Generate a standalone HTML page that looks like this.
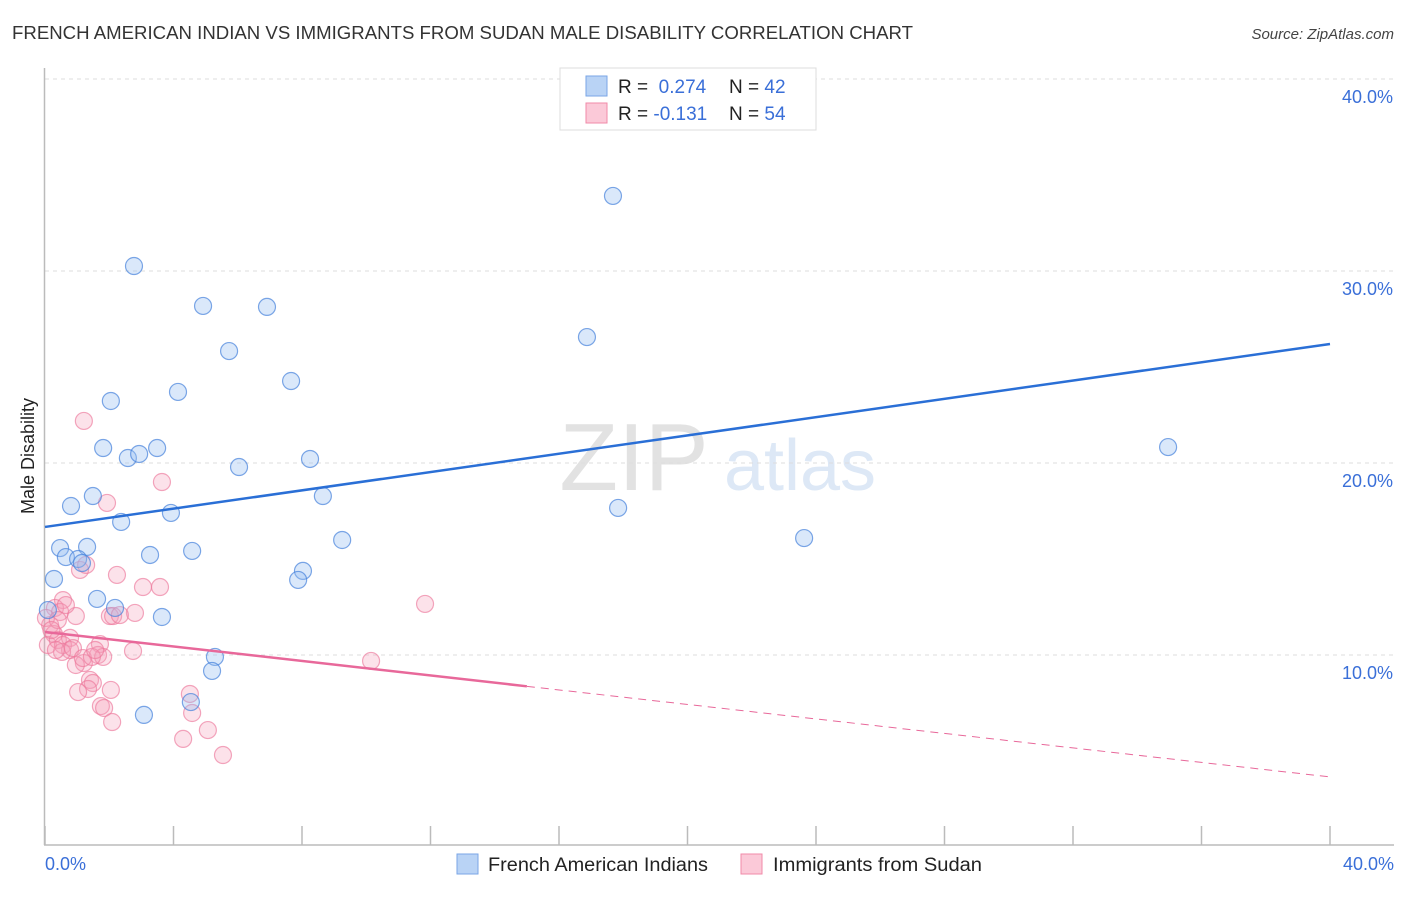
<!DOCTYPE html>
<html><head><meta charset="utf-8"><style>
body{margin:0;background:#fff;font-family:"Liberation Sans",sans-serif;}
svg text{font-family:"Liberation Sans",sans-serif;}
</style></head><body>
<svg id="chart" width="1406" height="892" viewBox="0 0 1406 892">
<text x="12" y="39" font-size="18" fill="#333" textLength="901" lengthAdjust="spacingAndGlyphs">FRENCH AMERICAN INDIAN VS IMMIGRANTS FROM SUDAN MALE DISABILITY CORRELATION CHART</text>
<text x="1394" y="39" font-size="15" fill="#444" font-style="italic" text-anchor="end">Source: ZipAtlas.com</text>
<text x="634" y="490" font-size="96" fill="#e2e2e2" font-family="Liberation Serif" text-anchor="middle">ZIP</text>
<text x="800" y="490" font-size="72" fill="#dde8f6" text-anchor="middle">atlas</text>
<g id="grid"></g>
<g id="axes"></g>
<g id="marks"></g>
<text transform="translate(34,456) rotate(-90)" font-size="18" fill="#222" text-anchor="middle">Male Disability</text>
<text x="45" y="870" font-size="18" fill="#3a6fd8">0.0%</text>
<text x="1394" y="870" font-size="18" fill="#3a6fd8" text-anchor="end">40.0%</text>
<g>
<rect x="560" y="68" width="256" height="62" fill="#fff" stroke="#ddd"/>
<rect x="586" y="76" width="21" height="20" fill="#b9d3f5" stroke="#7aa6e6"/>
<rect x="586" y="103" width="21" height="20" fill="#fbc9d8" stroke="#f08aa8"/>
<text x="618" y="93" font-size="19" fill="#222">R = <tspan fill="#3a6fd8">&#160;0.274</tspan><tspan x="729">N = </tspan><tspan fill="#3a6fd8">42</tspan></text>
<text x="618" y="120" font-size="19" fill="#222">R = <tspan fill="#3a6fd8">-0.131</tspan><tspan x="729">N = </tspan><tspan fill="#3a6fd8">54</tspan></text>
</g>
<g>
<rect x="457" y="854" width="21" height="20" fill="#b9d3f5" stroke="#7aa6e6"/>
<text x="488" y="871" font-size="19" fill="#222" textLength="220" lengthAdjust="spacingAndGlyphs">French American Indians</text>
<rect x="741" y="854" width="21" height="20" fill="#fbc9d8" stroke="#f08aa8"/>
<text x="773" y="871" font-size="19" fill="#222" textLength="209" lengthAdjust="spacingAndGlyphs">Immigrants from Sudan</text>
</g>
</svg>
<script>
const yTicks=[10,20,30,40];
const yTickLabels=["10.0%","20.0%","30.0%","40.0%"];
const xTicks=[0,4,8,12,16,20,24,28,32,36,40];
const blueX=[2.77,17.68,4.92,6.91,5.73,16.87,7.66,4.14,2.05,1.81,3.49,2.58,2.93,6.04,8.25,34.96,1.49,0.81,8.65,3.92,2.37,17.84,23.63,9.25,0.47,1.31,0.65,1.03,3.27,4.58,0.28,8.03,7.88,1.15,1.62,2.18,3.64,0.09,5.29,5.20,4.54,3.08];
const blueY=[30.26,33.91,28.18,28.13,25.83,26.56,24.27,23.70,23.23,20.78,20.78,20.26,20.47,19.79,20.21,20.83,18.28,17.76,18.28,17.40,16.93,17.66,16.09,15.99,15.57,15.63,15.10,15.00,15.21,15.42,13.96,14.38,13.91,14.79,12.92,12.45,11.98,12.34,9.90,9.17,7.55,6.88];
const pinkX=[1.21,3.64,1.93,1.09,1.28,2.24,3.05,3.58,11.83,0.56,0.31,0.47,0.96,2.02,2.12,2.80,0.16,0.28,0.09,0.40,0.78,0.56,0.78,0.53,0.87,1.71,1.65,1.81,2.74,1.21,0.96,10.15,1.40,1.49,1.34,2.05,1.03,4.51,1.74,1.84,4.58,2.09,5.07,4.30,5.54,0.03,1.18,0.34,0.65,1.46,0.40,2.33,1.56,0.20];
const pinkY=[22.19,19.01,17.92,14.43,14.69,14.17,13.54,13.54,12.66,12.86,12.45,12.24,12.03,12.03,12.03,12.19,11.56,11.09,10.52,10.78,10.89,10.52,10.26,10.16,10.36,10.57,10.0,9.9,10.21,9.58,9.48,9.69,8.70,8.54,8.23,8.18,8.07,7.97,7.34,7.24,6.98,6.51,6.09,5.63,4.79,11.93,9.84,10.26,12.60,9.9,11.82,12.08,10.26,11.3];
const blueTrend=[16.67,26.2];
const pinkTrend=[11.2,3.65];
const pinkSolidEnd=15.0;

const X=v=>45+v/40*1285;
const Y=v=>847-v*19.2;
const NS="http://www.w3.org/2000/svg";
function mk(tag,attrs,parent){const e=document.createElementNS(NS,tag);for(const k in attrs)e.setAttribute(k,attrs[k]);document.getElementById(parent).appendChild(e);return e;}
yTicks.forEach((t,i)=>{
  const l=mk('line',{x1:45,x2:1393,y1:Y(t),y2:Y(t),stroke:'#ddd','stroke-dasharray':'4,4'},'grid');
  
  
  const tx=mk('text',{x:1393,y:Y(t)+24,'font-size':18,fill:'#3a6fd8','text-anchor':'end'},'grid');
  tx.textContent=yTickLabels[i];
  
  
});
let a=mk('line',{x1:44.5,x2:44.5,y1:68,y2:845,stroke:'#bbb','stroke-width':1.5},'axes');


a=mk('line',{x1:44,x2:1394,y1:845,y2:845,stroke:'#bbb','stroke-width':1.5},'axes');


xTicks.forEach(t=>{
  const l=mk('line',{x1:X(t),x2:X(t),y1:826,y2:845,stroke:'#bbb','stroke-width':1.5},'axes');
  
  
});
pinkX.forEach((v,i)=>{
  const c=mk('circle',{cx:X(v),cy:Y(pinkY[i]),r:8.5,fill:'rgba(246,160,185,0.3)',stroke:'rgba(236,120,155,0.65)','stroke-width':1.2},'marks');
  
  
});
blueX.forEach((v,i)=>{
  const c=mk('circle',{cx:X(v),cy:Y(blueY[i]),r:8.5,fill:'rgba(150,190,240,0.35)',stroke:'rgba(70,130,220,0.7)','stroke-width':1.2},'marks');
  
  
});
let t=mk('line',{x1:X(0),y1:Y(blueTrend[0]),x2:X(40),y2:Y(blueTrend[1]),stroke:'#2a6fd6','stroke-width':2.5},'marks');


const py=x=>pinkTrend[0]+(pinkTrend[1]-pinkTrend[0])*x/40;
t=mk('line',{x1:X(0),y1:Y(py(0)),x2:X(pinkSolidEnd),y2:Y(py(pinkSolidEnd)),stroke:'#e8689a','stroke-width':2.5},'marks');


t=mk('line',{x1:X(pinkSolidEnd),y1:Y(py(pinkSolidEnd)),x2:X(40),y2:Y(py(40)),stroke:'#e8689a','stroke-width':1,'stroke-dasharray':'8,6'},'marks');


</script>
</body></html>
